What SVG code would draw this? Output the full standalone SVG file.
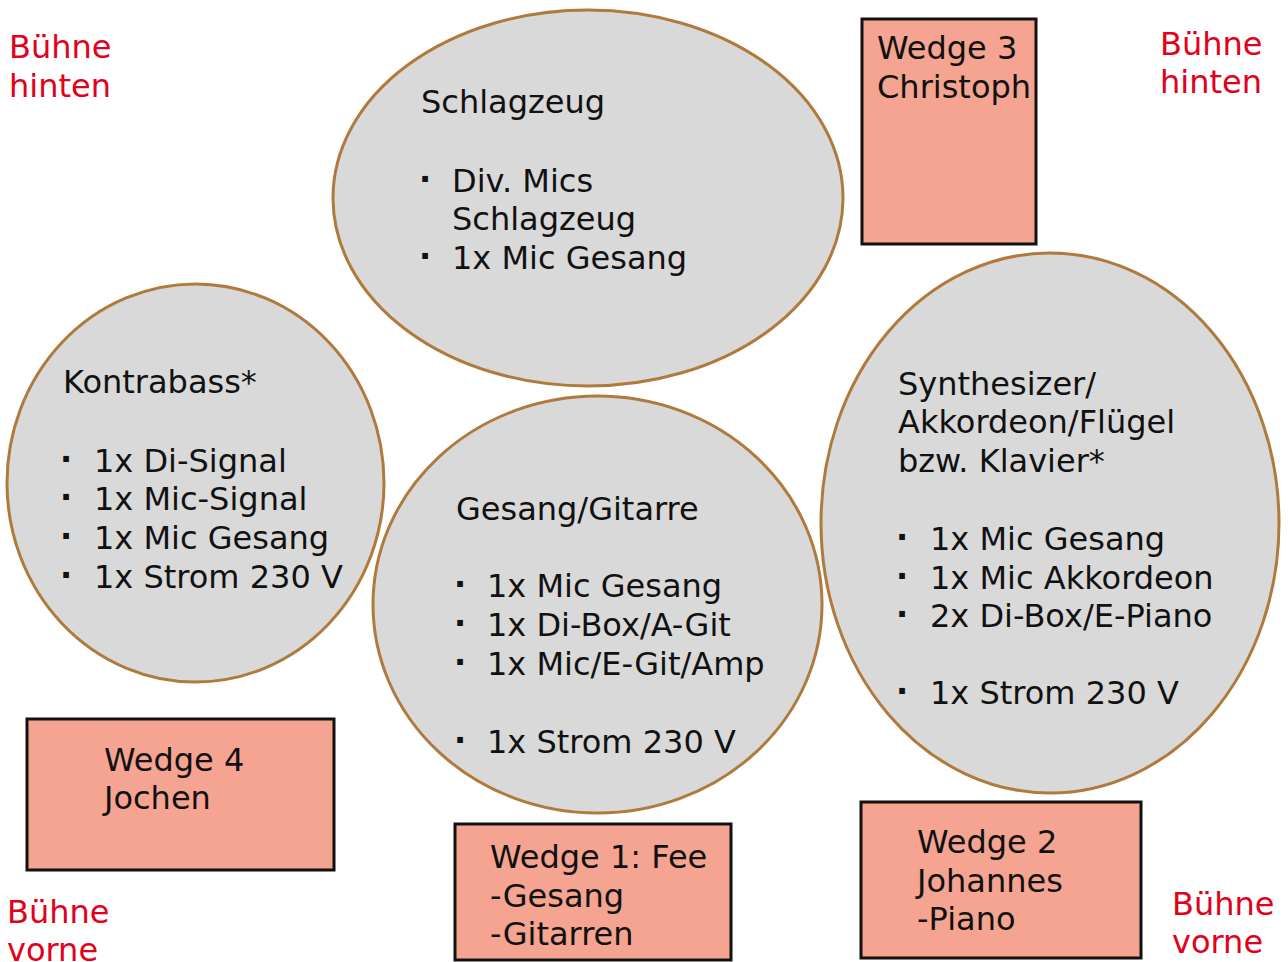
<svg xmlns="http://www.w3.org/2000/svg" width="1288" height="962" viewBox="0 0 1288 962">
<style>
.bg{fill:#ffffff}
.area{fill:#d9d9d9;stroke:#b07a3c;stroke-width:3}
.wedge{fill:#f4a490;stroke:#111111;stroke-width:3}
text{font-family:"DejaVu Sans","Liberation Sans",sans-serif;font-size:32px;fill:#111111}
.red{fill:#e2001a}
.b{font-weight:bold}
</style>
<rect class="bg" x="0" y="0" width="1288" height="962"/>
<g id="connectors"></g>
<g id="label-hinten-left"><text class="red" x="9" y="58">Bühne</text><text class="red" x="9" y="97">hinten</text></g>
<g id="label-hinten-right"><text class="red" x="1160" y="55">Bühne</text><text class="red" x="1160" y="93">hinten</text></g>
<g id="label-vorne-left"><text class="red" x="7" y="923">Bühne</text><text class="red" x="7" y="961">vorne</text></g>
<g id="label-vorne-right"><text class="red" x="1172" y="915">Bühne</text><text class="red" x="1172" y="953">vorne</text></g>
<g id="schlagzeug">
<ellipse class="area" cx="588" cy="198" rx="255" ry="188"/>
<text x="421" y="113">Schlagzeug</text>
<text class="b" x="419" y="190">·</text><text x="452" y="192">Div. Mics</text>
<text x="452" y="230">Schlagzeug</text>
<text class="b" x="419" y="267">·</text><text x="452" y="269">1x Mic Gesang</text>
</g>
<g id="wedge3">
<rect class="wedge" x="862" y="19" width="174" height="225"/>
<text x="877" y="59">Wedge 3</text>
<text x="877" y="98">Christoph</text>
</g>
<g id="kontrabass">
<ellipse class="area" cx="195.5" cy="483" rx="188.5" ry="199"/>
<text x="63" y="393">Kontrabass*</text>
<text class="b" x="60" y="470">·</text><text x="94" y="472">1x Di-Signal</text>
<text class="b" x="60" y="508">·</text><text x="94" y="510">1x Mic-Signal</text>
<text class="b" x="60" y="547">·</text><text x="94" y="549">1x Mic Gesang</text>
<text class="b" x="60" y="586">·</text><text x="94" y="588">1x Strom 230 V</text>
</g>
<g id="gesang-gitarre">
<ellipse class="area" cx="597.5" cy="604.5" rx="224.5" ry="208.5"/>
<text x="456" y="520">Gesang/Gitarre</text>
<text class="b" x="454" y="595">·</text><text x="487" y="597">1x Mic Gesang</text>
<text class="b" x="454" y="634">·</text><text x="487" y="636">1x Di-Box/A-Git</text>
<text class="b" x="454" y="673">·</text><text x="487" y="675">1x Mic/E-Git/Amp</text>
<text class="b" x="454" y="751">·</text><text x="487" y="753">1x Strom 230 V</text>
</g>
<g id="synth">
<ellipse class="area" cx="1050" cy="523" rx="229" ry="270"/>
<text x="898" y="395">Synthesizer/</text>
<text x="898" y="433">Akkordeon/Flügel</text>
<text x="898" y="472">bzw. Klavier*</text>
<text class="b" x="896" y="548">·</text><text x="930" y="550">1x Mic Gesang</text>
<text class="b" x="896" y="587">·</text><text x="930" y="589">1x Mic Akkordeon</text>
<text class="b" x="896" y="625">·</text><text x="930" y="627">2x Di-Box/E-Piano</text>
<text class="b" x="896" y="702">·</text><text x="930" y="704">1x Strom 230 V</text>
</g>
<g id="wedge4">
<rect class="wedge" x="27" y="719" width="307" height="151"/>
<text x="104" y="771">Wedge 4</text>
<text x="104" y="809">Jochen</text>
</g>
<g id="wedge1">
<rect class="wedge" x="455" y="824" width="276" height="136"/>
<text x="490" y="868">Wedge 1: Fee</text>
<text x="490" y="907">-Gesang</text>
<text x="490" y="945">-Gitarren</text>
</g>
<g id="wedge2">
<rect class="wedge" x="861" y="802" width="280" height="156"/>
<text x="917" y="853">Wedge 2</text>
<text x="917" y="892">Johannes</text>
<text x="917" y="930">-Piano</text>
</g>
</svg>
